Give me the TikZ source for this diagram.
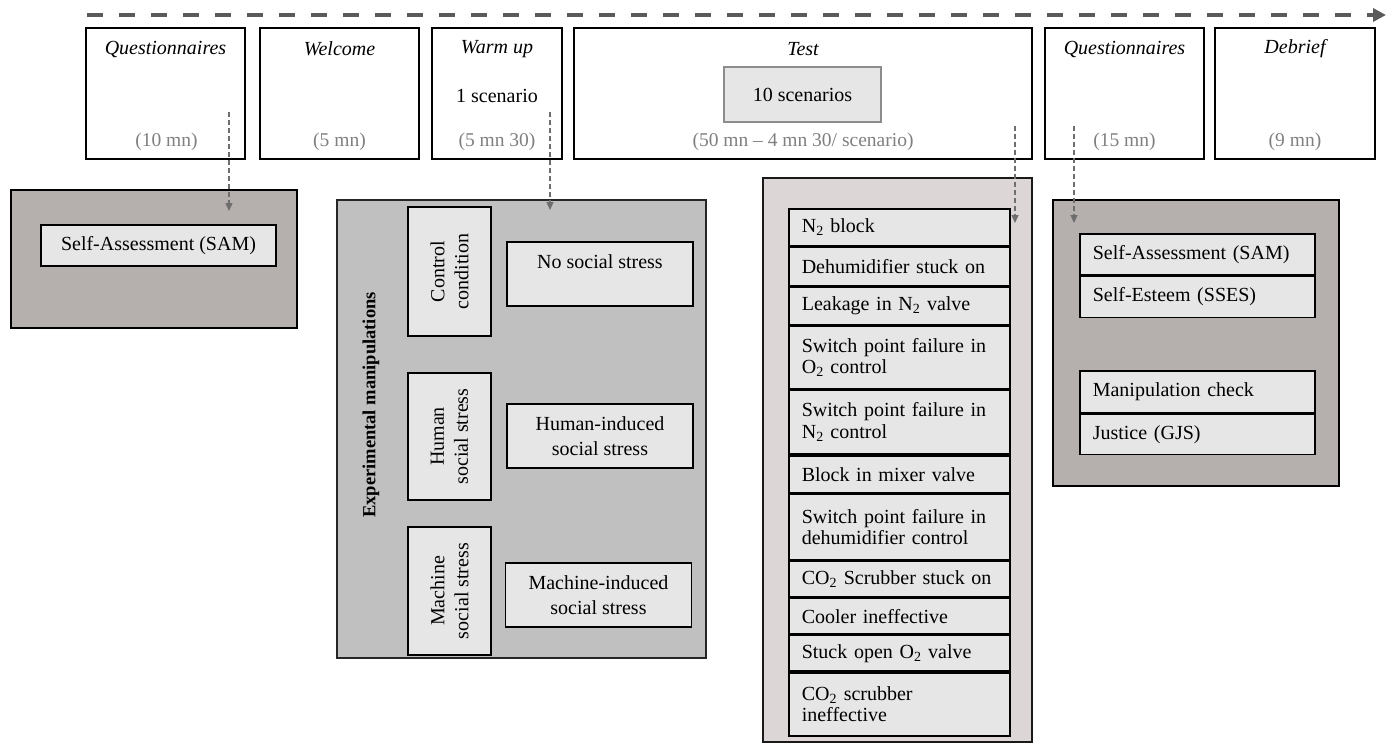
\documentclass[tikz,border=0pt]{standalone}
\usepackage{fontspec}
\setmainfont{Liberation Serif}
\usetikzlibrary{arrows.meta}
\definecolor{durgray}{HTML}{808080}
\definecolor{warmgray}{HTML}{B5B0AD}
\definecolor{midgray}{HTML}{C0C0C0}
\definecolor{pinkgray}{HTML}{DCD7D6}
\definecolor{cellgray}{HTML}{E6E6E6}
\definecolor{conngray}{HTML}{6E6E6E}
\definecolor{linegray}{HTML}{5A5A5A}
\definecolor{scenborder}{HTML}{8C8C8C}
\tikzset{
  phase/.style={draw=black, line width=1.8pt, fill=white, inner sep=0pt},
  ttl/.style={font=\itshape\fontsize{20}{24}\selectfont, inner sep=0pt},
  dur/.style={font=\fontsize{19.5}{24}\selectfont, text=durgray, inner sep=0pt},
  plain/.style={font=\fontsize{20}{24}\selectfont, inner sep=0pt},
  outerbox/.style={draw=black, line width=1.8pt, inner sep=0pt},
  cell/.style={draw=black, line width=1.8pt, fill=cellgray, inner sep=0pt, align=center,
    font=\fontsize{20}{25}\selectfont},
  rowcell/.style={draw=black, line width=1.6pt, fill=cellgray, anchor=north west,
    inner xsep=13pt, inner ysep=0pt, align=left, font=\fontsize{20}{21.5}\selectfont},
  conn/.style={draw=conngray, line width=1.3pt, dash pattern=on 5pt off 3pt,
    -{Triangle[length=8pt,width=7pt]}},
  timeline/.style={draw=linegray, line width=4.5pt, dash pattern=on 16pt off 16pt,
    -{Triangle[length=13pt,width=13pt]}},
}
\begin{document}
\begin{tikzpicture}[x=1pt,y=-1pt]
\useasboundingbox (0,0) rectangle (1393,744);

% timeline arrow
\coordinate (tl0) at (87,15);
\coordinate (tl1) at (1386,15);
\draw[timeline] (tl0) -- (tl1);

% phases
\node[phase, minimum width=159pt, minimum height=131pt] (q1) at (165.5,93.5) {};
\node[phase, minimum width=159pt, minimum height=131pt] (wel) at (339.5,93.5) {};
\node[phase, minimum width=130pt, minimum height=131pt] (warm) at (497,93.5) {};
\node[phase, minimum width=458pt, minimum height=131pt] (test) at (803,93.5) {};
\node[phase, minimum width=159pt, minimum height=131pt] (q2) at (1124.5,93.5) {};
\node[phase, minimum width=160pt, minimum height=131pt] (deb) at (1295,93.5) {};

\node[ttl] (q1t) at (165.5,49) {Questionnaires};
\node[ttl] (welt) at (339.5,49) {Welcome};
\node[ttl] (warmt) at (497,49) {Warm up};
\node[ttl] (testt) at (803,49) {Test};
\node[ttl] (q2t) at (1124.5,49) {Questionnaires};
\node[ttl] (debt) at (1295,49) {Debrief};

\node[dur] (q1d) at (166.5,142) {(10 mn)};
\node[dur] (weld) at (339.5,142) {(5 mn)};
\node[dur] (warmd) at (497,142) {(5 mn 30)};
\node[dur] (testd) at (803,142) {(50 mn – 4 mn 30/ scenario)};
\node[dur] (q2d) at (1124.5,142) {(15 mn)};
\node[dur] (debd) at (1295,142) {(9 mn)};

\node[plain] (onesc) at (497,96) {1 scenario};
\node[draw=scenborder, line width=1.8pt, fill=cellgray, minimum width=157pt, minimum height=55pt,
  inner sep=0pt, font=\fontsize{20}{24}\selectfont] (tensc) at (802.5,94.5) {10 scenarios};

% left SAM block
\node[outerbox, fill=warmgray, minimum width=286pt, minimum height=138pt] (samout) at (154,259) {};
\node[cell, minimum width=235pt, minimum height=41pt] (sam1) at (158.5,245.5) {Self-Assessment (SAM)};

% experimental manipulations
\node[outerbox, draw=black!85, line width=1.5pt, fill=midgray, minimum width=369pt, minimum height=458pt] (expout) at (521.5,429) {};
\node[rotate=90, inner sep=0pt, font=\bfseries\fontsize{18.5}{22}\selectfont] (explab) at (371,405) {Experimental manipulations};
\node[cell, minimum width=83pt, minimum height=129pt] (ctrl) at (449.5,271.5) {};
\node[cell, minimum width=83pt, minimum height=127pt] (hum) at (449.5,436.5) {};
\node[cell, minimum width=83pt, minimum height=128pt] (mach) at (449.5,591) {};
\node[rotate=90, align=center, inner sep=0pt, font=\fontsize{20}{24}\selectfont] (ctrlt) at (ctrl) {Control\\condition};
\node[rotate=90, align=center, inner sep=0pt, font=\fontsize{20}{24}\selectfont] (humt) at (hum) {Human\\social stress};
\node[rotate=90, align=center, inner sep=0pt, font=\fontsize{20}{24}\selectfont] (macht) at (mach) {Machine\\social stress};
\node[cell, minimum width=186pt, minimum height=64pt] (nos) at (600,274) {No social stress\\\mbox{}};
\node[cell, minimum width=186pt, minimum height=64pt] (huss) at (600,436) {Human-induced\\social stress};
\node[cell, minimum width=186pt, minimum height=64pt] (mass) at (598.5,595) {Machine-induced\\social stress};

% test scenarios list
\node[outerbox, draw=black!90, line width=1.5pt, fill=pinkgray, minimum width=269pt, minimum height=564pt] (testout) at (897.5,460) {};
\tikzset{lst/.style={rowcell, text width=195pt}}
\node[lst, minimum height=37pt] (r1) at (788,208) {N\textsubscript{2} block};
\node[lst, minimum height=38pt] (r2) at (r1.south west) {Dehumidifier stuck on};
\node[lst, minimum height=38pt] (r3) at (r2.south west) {Leakage in N\textsubscript{2} valve};
\node[lst, minimum height=62pt] (r4) at (r3.south west) {Switch point failure in\\O\textsubscript{2} control};
\node[lst, minimum height=64pt] (r5) at (r4.south west) {Switch point failure in\\N\textsubscript{2} control};
\node[lst, minimum height=37pt] (r6) at (r5.south west) {Block in mixer valve};
\node[lst, minimum height=65pt] (r7) at (r6.south west) {Switch point failure in\\dehumidifier control};
\node[lst, minimum height=36pt] (r8) at (r7.south west) {CO\textsubscript{2} Scrubber stuck on};
\node[lst, minimum height=35pt] (r9) at (r8.south west) {Cooler ineffective};
\node[lst, minimum height=36pt] (r10) at (r9.south west) {Stuck open O\textsubscript{2} valve};
\node[lst, minimum height=63pt] (r11) at (r10.south west) {CO\textsubscript{2} scrubber\\ineffective};

% final questionnaires block
\node[outerbox, fill=warmgray, minimum width=286pt, minimum height=286pt] (fqout) at (1196,343) {};
\tikzset{rlst/.style={rowcell, text width=209pt}}
\node[rlst, minimum height=41pt] (f1) at (1079,233) {Self-Assessment (SAM)};
\node[rlst, minimum height=41pt] (f2) at (f1.south west) {Self-Esteem (SSES)};
\node[rlst, minimum height=42pt] (f3) at (1079,370) {Manipulation check};
\node[rlst, minimum height=40pt] (f4) at (f3.south west) {Justice (GJS)};

% connectors
\coordinate (c1s) at (229,112); \coordinate (c1e) at (229,211);
\coordinate (c2s) at (550,112); \coordinate (c2e) at (550,210);
\coordinate (c3s) at (1015,126); \coordinate (c3e) at (1015,223);
\coordinate (c4s) at (1074,126); \coordinate (c4e) at (1074,223);
\draw[conn] (c1s) -- (c1e);
\draw[conn] (c2s) -- (c2e);
\draw[conn] (c3s) -- (c3e);
\draw[conn] (c4s) -- (c4e);
\end{tikzpicture}
\end{document}
